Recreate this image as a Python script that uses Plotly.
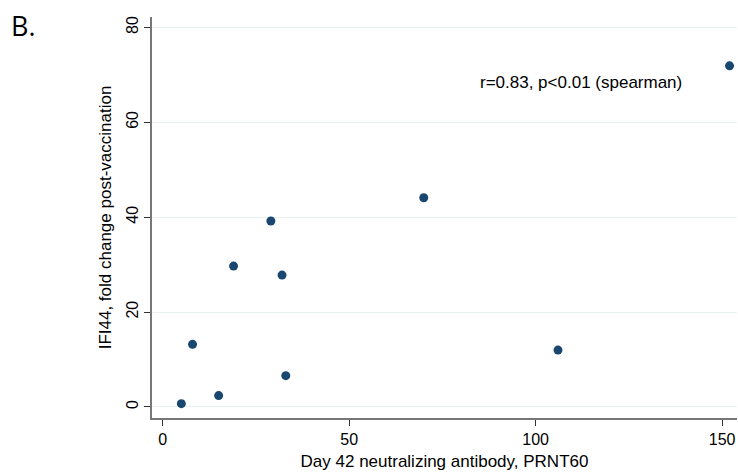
import plotly.graph_objects as go

prnt60 = [5, 15, 8, 33, 19, 32, 29, 70, 106, 152]
ifi44_fold = [0.7, 2.4, 13.2, 6.6, 29.7, 27.8, 39.2, 44.1, 12.0, 71.9]
x_ticks = [0, 50, 100, 150]
y_ticks = [0, 20, 40, 60, 80]

FONT = "Liberation Sans, Arial, Helvetica, sans-serif"

fig = go.Figure()
fig.add_trace(go.Scatter(
    x=prnt60, y=ifi44_fold, mode="markers",
    marker=dict(size=9, color="#1a476f"),
    showlegend=False,
))

fig.add_annotation(
    x=0.0, y=1.0, xref="paper", yref="paper", xanchor="left", yanchor="top",
    xshift=-152 + 9, yshift=17 - 5,
    text="B.", showarrow=False,
    font=dict(family="Open Sans, Noto Sans, sans-serif", size=27, color="#000"),
)
fig.add_annotation(
    x=84.6, y=68.3, xref="x", yref="y", xanchor="left", yanchor="middle",
    text="r=0.83, p<0.01 (spearman)", showarrow=False,
    font=dict(family=FONT, size=17, color="#000"),
)

fig.update_layout(
    width=738, height=475,
    margin=dict(l=152, r=1, t=17, b=57),
    paper_bgcolor="white", plot_bgcolor="white",
    font=dict(family=FONT, size=17, color="#000"),
    xaxis=dict(
        range=[-2.87, 154.0], tickvals=x_ticks, ticks="outside", ticklen=6,
        tickwidth=1, tickcolor="#333", showline=True, linecolor="#777",
        linewidth=1.5, showgrid=False, zeroline=False,
        title=dict(text="Day 42 neutralizing antibody, PRNT60", standoff=8,
                   font=dict(size=17)),
        tickfont=dict(size=16),
    ),
    yaxis=dict(
        range=[-2.32, 82.2], tickvals=y_ticks, ticks="outside", ticklen=6,
        tickwidth=1, tickcolor="#333", showline=True, linecolor="#777",
        linewidth=1.5, showgrid=True, gridcolor="#e8f0f2", gridwidth=1,
        zeroline=False, tickangle=-90,
        title=dict(text="IFI44, fold change post-vaccination", standoff=8,
                   font=dict(size=17)),
        tickfont=dict(size=16),
    ),
)

fig.write_html("out.html")
